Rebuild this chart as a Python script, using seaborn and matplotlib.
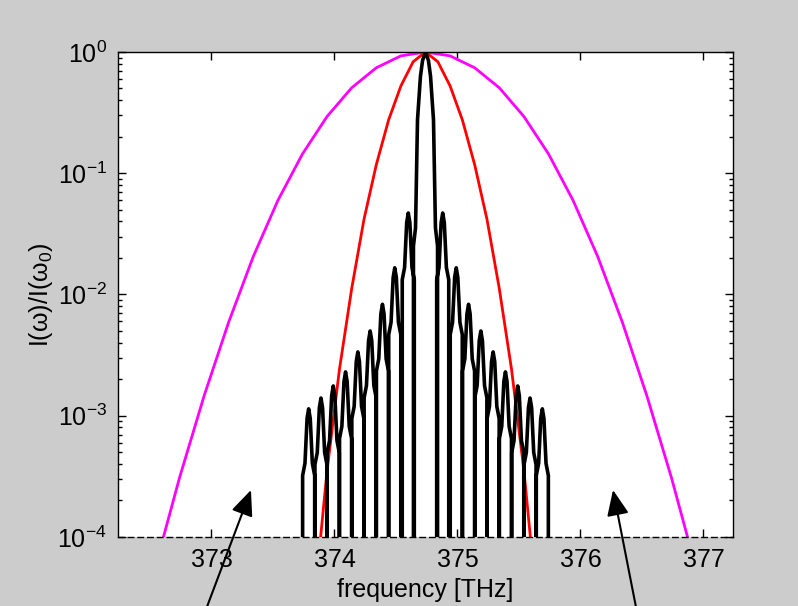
import matplotlib
matplotlib.use("Agg")
import numpy as np
import pandas as pd
import matplotlib.pyplot as plt
import seaborn as sns
from matplotlib.patches import FancyArrowPatch

sns.set_theme(style="white")
plt.rcParams["font.family"] = ["Liberation Sans", "DejaVu Sans"]
plt.rcParams["mathtext.fontset"] = "custom"
plt.rcParams["mathtext.rm"] = "Liberation Sans"
plt.rcParams["mathtext.it"] = "Liberation Sans:italic"
plt.rcParams["mathtext.default"] = "regular"
plt.rcParams["axes.unicode_minus"] = False

# Broad spectrum (magenta)
broad_freq = [372.54, 372.74, 372.94, 373.14, 373.34, 373.54, 373.74, 373.94,
              374.14, 374.34, 374.54, 374.74, 374.94, 375.14, 375.34, 375.54,
              375.74, 375.94, 376.14, 376.34, 376.54, 376.74, 376.94]
broad_int = [5.5e-5, 3.08e-4, 1.46e-3, 5.93e-3, 2.06e-2, 5.97e-2, 0.1445, 0.294,
             0.507, 0.741, 0.929, 1.0, 0.929, 0.741, 0.507, 0.294,
             0.1445, 5.97e-2, 2.06e-2, 5.93e-3, 1.46e-3, 3.08e-4, 5.5e-5]

# Narrower spectrum (red)
narrow_freq = [373.84, 373.94, 374.04, 374.14, 374.24, 374.34, 374.44, 374.54,
               374.64, 374.74, 374.84, 374.94, 375.04, 375.14, 375.24, 375.34,
               375.44, 375.54, 375.64]
narrow_int = [3.2e-5, 3.55e-4, 2.4e-3, 1.12e-2, 4.17e-2, 0.1175, 0.275, 0.525,
              0.832, 1.0, 0.832, 0.525, 0.275, 0.1175, 4.17e-2, 1.12e-2,
              2.4e-3, 3.55e-4, 3.2e-5]

# Comb lines (black): centre frequency and peak intensity of each tooth
comb_freq = [373.79, 373.89, 373.99, 374.09, 374.19, 374.29, 374.39, 374.49,
             374.60, 374.74, 374.88, 374.99, 375.09, 375.19, 375.29, 375.39,
             375.49, 375.59, 375.69]
comb_peak = [1.14e-3, 1.40e-3, 1.76e-3, 2.30e-3, 3.36e-3, 5.0e-3, 8.3e-3, 1.66e-2,
             4.7e-2, 1.0, 4.7e-2, 1.66e-2, 8.3e-3, 5.0e-3, 3.36e-3, 2.3e-3,
             1.76e-3, 1.40e-3, 1.14e-3]

# Tooth line shape: offset from centre [THz] and level in decades below the peak
side_off = [-0.049, -0.049, -0.030, -0.013, 0.0, 0.013, 0.030, 0.049, 0.049]
side_dec = [None, -0.55, -0.45, -0.08, 0.0, -0.08, -0.45, -0.55, None]
main_off = [-0.098, -0.098, -0.081, -0.065, -0.041, -0.024, 0.0,
            0.024, 0.041, 0.065, 0.081, 0.098, 0.098]
main_dec = [None, -1.6, -1.45, -0.56, -0.2, -0.07, 0.0,
            -0.07, -0.2, -0.56, -1.45, -1.6, None]

floor_level = 1e-4
tick_freq = [373, 374, 375, 376, 377]
tick_text = ["373", "374", "375", "376", "377"]

# assemble the comb trace tooth by tooth
cf, ci = [], []
for c, p in zip(comb_freq, comb_peak):
    off, dec = (main_off, main_dec) if p >= 1.0 else (side_off, side_dec)
    for o, d in zip(off, dec):
        cf.append(c + o)
        ci.append(floor_level if d is None else p * 10 ** d)
comb = pd.DataFrame({"f": cf, "I": ci})
broad = pd.DataFrame({"f": broad_freq, "I": broad_int})
narrow = pd.DataFrame({"f": narrow_freq, "I": narrow_int})

fig = plt.figure(figsize=(7.98, 6.06), dpi=100, facecolor="#cccccc")
ax = fig.add_axes([0.1479, 0.1139, 0.7706, 0.8003])
ax.set_facecolor("white")

sns.lineplot(data=broad, x="f", y="I", ax=ax, color="#ff00ff", lw=2.0,
             sort=False, estimator=None)
sns.lineplot(data=narrow, x="f", y="I", ax=ax, color="#ff0000", lw=2.0,
             sort=False, estimator=None)
sns.lineplot(data=comb, x="f", y="I", ax=ax, color="black", lw=2.6,
             sort=False, estimator=None)

ax.set_yscale("log")
ax.set_xlim(372.24, 377.24)
ax.set_ylim(1e-4, 1.0)
ax.set_xticks(tick_freq)
ax.set_xticklabels(tick_text)

for s in ax.spines.values():
    s.set_color("black")
    s.set_linewidth(1.0)
ax.spines["bottom"].set_linestyle((0, (4, 3)))

ax.tick_params(which="both", direction="in", top=True, right=True,
               bottom=True, left=True, colors="black", width=1.0)
ax.tick_params(which="major", length=6, labelsize=18, pad=8)
ax.tick_params(which="minor", length=3)

ax.set_xlabel("frequency [THz]", fontsize=18, color="black", labelpad=4)
ax.set_ylabel("I(ω)/I(ω$_0$)", fontsize=18, color="black", labelpad=2)

arrow_style = "-|>,head_length=0.65,head_width=0.28"
for tail, tip in [((0.2569, -0.01), (0.3145, 0.1914)),
                  ((0.7982, -0.01), (0.7682, 0.1914))]:
    fig.add_artist(FancyArrowPatch(posA=tail, posB=tip, transform=fig.transFigure,
                                   arrowstyle=arrow_style, mutation_scale=24,
                                   color="black", lw=1.5, shrinkA=0, shrinkB=0))

fig.savefig("out.png", dpi=100, facecolor=fig.get_facecolor())
